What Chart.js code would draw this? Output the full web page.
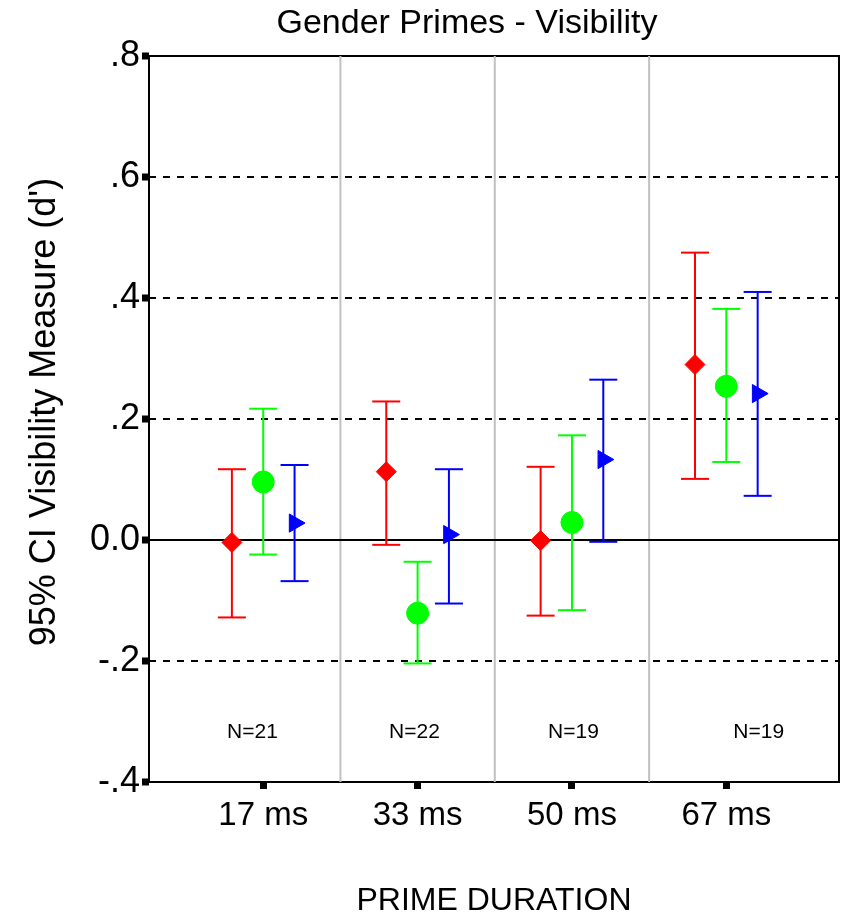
<!DOCTYPE html>
<html>
<head>
<meta charset="utf-8">
<title>Gender Primes - Visibility</title>
<script src="https://cdn.jsdelivr.net/npm/chart.js@4.4.1/dist/chart.umd.min.js"></script>
<style>
  html, body { margin: 0; padding: 0; background: #fff; }
  canvas { display: block; }
</style>
</head>
<body>
<canvas id="chart" width="848" height="917"></canvas>
<script>
// categories along the x axis (placed at 1..4 on a linear scale)
const categories = ['17 ms', '33 ms', '50 ms', '67 ms'];
const catPos = [1, 2, 3, 4];
const separators = [1.5, 2.5, 3.5];

// y axis ticks
const yTickValues = [-0.4, -0.2, 0, 0.2, 0.4, 0.6, 0.8];
const yTickLabels = ['-.4', '-.2', '0.0', '.2', '.4', '.6', '.8'];

// means and 95% CI bounds
const redMean   = [-0.004, 0.113, -0.001, 0.290];
const redLow    = [-0.128, -0.008, -0.125, 0.101];
const redHigh   = [0.117, 0.229, 0.121, 0.475];

const greenMean = [0.096, -0.121, 0.029, 0.254];
const greenLow  = [-0.024, -0.204, -0.116, 0.129];
const greenHigh = [0.217, -0.036, 0.173, 0.382];

const blueMean  = [0.028, 0.009, 0.133, 0.242];
const blueLow   = [-0.068, -0.105, -0.003, 0.073];
const blueHigh  = [0.124, 0.117, 0.265, 0.410];

// sample sizes written inside the plot
const nLabels = ['N=21', 'N=22', 'N=19', 'N=19'];
const nLabelX = [0.93, 1.98, 3.01, 4.21];
const nLabelY = -0.328;

const FONT = '"Liberation Sans", Arial, Helvetica, sans-serif';
const X_MIN = 0.26, X_MAX = 4.73;

const series = [
  { color: '#ff0000', mean: redMean, low: redLow, high: redHigh, shift: -0.203, style: 'rectRot', radius: 10, rotation: 0 },
  { color: '#00ff00', mean: greenMean, low: greenLow, high: greenHigh, shift: 0, style: 'circle', radius: 11, rotation: 0 },
  { color: '#0000ff', mean: blueMean, low: blueLow, high: blueHigh, shift: 0.203, style: 'triangle', radius: 10.5, rotation: 90 }
];

const datasets = [];

// markers first so they end up on top
series.forEach(s => {
  datasets.push({
    type: 'scatter',
    data: catPos.map((c, i) => ({ x: c + s.shift, y: s.mean[i] })),
    pointStyle: s.style,
    pointRadius: s.radius,
    pointHoverRadius: s.radius,
    pointRotation: s.rotation,
    backgroundColor: s.color,
    borderColor: s.color,
    pointBorderWidth: 1,
    showLine: false
  });
});

// error bars: vertical line with a 'line' point style as caps
series.forEach(s => {
  catPos.forEach((c, i) => {
    datasets.push({
      type: 'line',
      data: [{ x: c + s.shift, y: s.low[i] }, { x: c + s.shift, y: s.high[i] }],
      borderColor: s.color,
      borderWidth: 2,
      pointStyle: 'line',
      pointRadius: 14,
      pointHoverRadius: 14,
      pointBorderColor: s.color,
      pointBorderWidth: 2,
      fill: false
    });
  });
});

// zero reference line
datasets.push({
  type: 'line',
  data: [{ x: X_MIN, y: 0 }, { x: X_MAX, y: 0 }],
  borderColor: '#000',
  borderWidth: 2,
  pointRadius: 0
});

// light grey category separators
separators.forEach(v => {
  datasets.push({
    type: 'line',
    data: [{ x: v, y: -0.4 }, { x: v, y: 0.8 }],
    borderColor: '#c0c0c0',
    borderWidth: 2,
    pointRadius: 0
  });
});

const framePlugin = {
  id: 'frame',
  beforeDatasetsDraw(chart) {
    const { ctx, chartArea: a } = chart;
    ctx.save();
    ctx.strokeStyle = '#000';
    ctx.lineWidth = 2;
    ctx.strokeRect(a.left, a.top, a.right - a.left, a.bottom - a.top);
    ctx.restore();
  }
};

const textPlugin = {
  id: 'texts',
  afterDraw(chart) {
    const { ctx, chartArea: a, scales } = chart;
    ctx.save();
    ctx.fillStyle = '#000';
    ctx.textBaseline = 'alphabetic';
    ctx.textAlign = 'center';

    ctx.font = '34px ' + FONT;
    ctx.fillText('Gender Primes - Visibility', 467, 33);

    ctx.font = '32px ' + FONT;
    ctx.fillText('PRIME DURATION', (a.left + a.right) / 2, 909.5);

    ctx.save();
    ctx.translate(55, 412);
    ctx.rotate(-Math.PI / 2);
    ctx.font = '36px ' + FONT;
    ctx.fillText("95% CI Visibility Measure (d')", 0, 0);
    ctx.restore();

    ctx.font = '21px ' + FONT;
    nLabels.forEach((t, i) => {
      ctx.fillText(t, scales.x.getPixelForValue(nLabelX[i]), scales.y.getPixelForValue(nLabelY));
    });
    ctx.restore();
  }
};

const framed = [0, 0.8, -0.4];

new Chart(document.getElementById('chart'), {
  type: 'scatter',
  data: { datasets },
  options: {
    responsive: false,
    animation: false,
    events: [],
    layout: { autoPadding: false, padding: { top: 56, right: 9, bottom: 0, left: 0 } },
    plugins: {
      legend: { display: false },
      title: { display: false },
      tooltip: { enabled: false }
    },
    scales: {
      x: {
        type: 'linear',
        min: X_MIN,
        max: X_MAX,
        afterBuildTicks: s => { s.ticks = catPos.map(v => ({ value: v })); },
        afterFit: s => { s.height = 135; s.paddingLeft = 0; s.paddingRight = 0; },
        ticks: {
          callback: (v, i) => categories[i],
          font: { family: FONT, size: 33 },
          color: '#000',
          padding: 7,
          maxRotation: 0,
          autoSkip: false
        },
        grid: { drawOnChartArea: false, tickLength: 7, tickWidth: 7, tickColor: '#000' },
        border: { display: false }
      },
      y: {
        min: -0.4,
        max: 0.8,
        afterBuildTicks: s => { s.ticks = yTickValues.map(v => ({ value: v })); },
        afterFit: s => { s.width = 149; },
        ticks: {
          callback: (v, i) => yTickLabels[i],
          font: { family: FONT, size: 36 },
          color: '#000',
          padding: 2
        },
        grid: {
          color: '#000',
          lineWidth: c => framed.some(f => Math.abs(f - c.tick.value) < 1e-6) ? 0 : 2,
          tickLength: 7,
          tickWidth: 7,
          tickColor: '#000'
        },
        border: { display: false, dash: [7, 7] }
      }
    }
  },
  plugins: [framePlugin, textPlugin]
});
</script>
</body>
</html>
